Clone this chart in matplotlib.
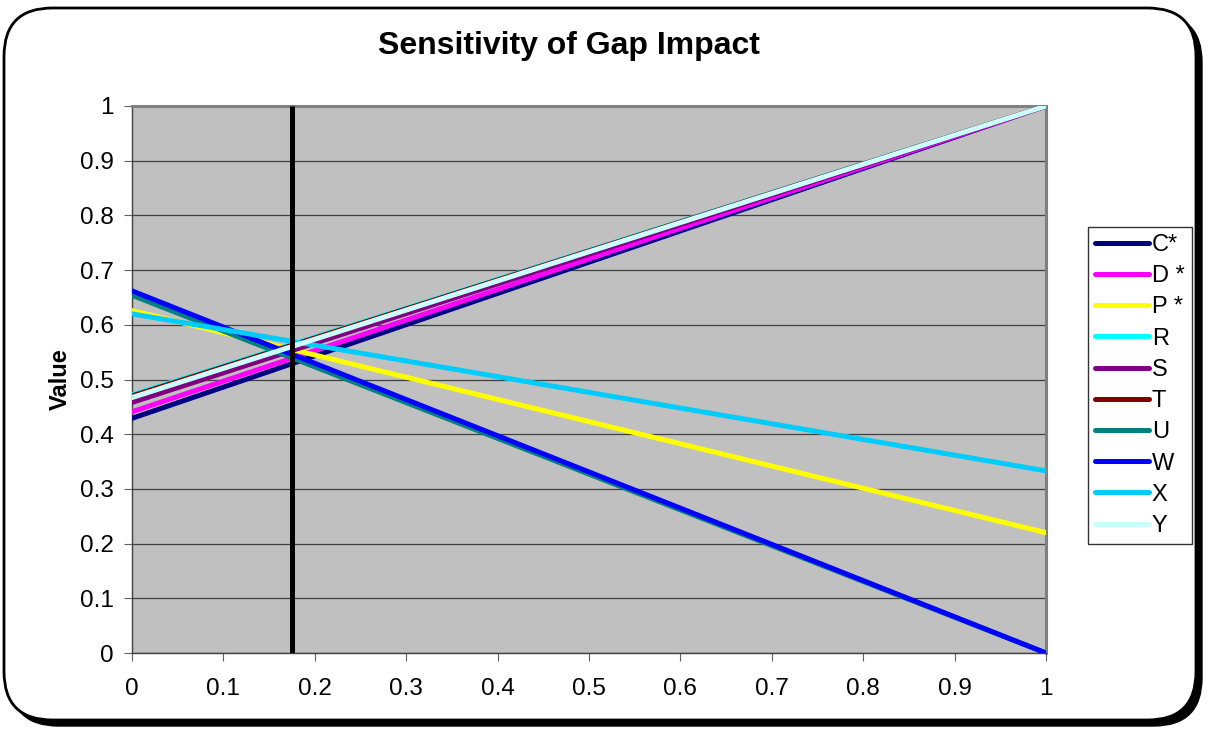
"""
Sensitivity of Gap Impact - garis lurus tiap seri dari x=0 ke x=1.
"""

import matplotlib

matplotlib.use("Agg")
import matplotlib.pyplot as plt
from matplotlib.patches import FancyBboxPatch

# --- Data ---
series_names = ["C*", "D *", "P *", "R", "S", "T", "U", "W", "X", "Y"]
x_points = [0, 1]
start_values = [0.429, 0.441, 0.626, 0.472, 0.458, 0.470, 0.654, 0.662, 0.620, 0.467]
end_values = [1.0, 1.0, 0.22, 1.0, 1.0, 1.0, 0.0, 0.0, 0.333, 1.0]
series_colors = ["#000080", "#FF00FF", "#FFFF00", "#00FFFF", "#800080",
                 "#800000", "#008080", "#0000FF", "#00CCFF", "#CCFFFF"]
marker_x = 0.175
x_ticks = [0, 0.1, 0.2, 0.3, 0.4, 0.5, 0.6, 0.7, 0.8, 0.9, 1]
y_ticks = [0, 0.1, 0.2, 0.3, 0.4, 0.5, 0.6, 0.7, 0.8, 0.9, 1]

plt.rcParams["font.family"] = ["Liberation Sans", "DejaVu Sans"]

W, H = 1210, 729
fig = plt.figure(figsize=(W / 100, H / 100), dpi=100)

# bingkai bulat + bayangan
shadow = FancyBboxPatch((10 / W, 3 / H), 1192 / W, 712 / H,
                        boxstyle="round,pad=0,rounding_size=0.04",
                        transform=fig.transFigure, facecolor="black",
                        edgecolor="black", zorder=-2, mutation_aspect=W / H)
frame = FancyBboxPatch((4 / W, 9 / H), 1192 / W, 712 / H,
                       boxstyle="round,pad=0,rounding_size=0.04",
                       transform=fig.transFigure, facecolor="white",
                       edgecolor="black", linewidth=2, zorder=-1,
                       mutation_aspect=W / H)
fig.patches.extend([shadow, frame])

ax = fig.add_axes([132 / W, 1 - 653 / H, (1046 - 132) / W, (653 - 106) / H])
ax.set_facecolor("#C0C0C0")

for name, y0, y1, col in zip(series_names, start_values, end_values, series_colors):
    ax.plot(x_points, [y0, y1], color=col, linewidth=3.6, label=name,
            solid_capstyle="round", zorder=3)

ax.vlines(marker_x, 0, 1, color="black", linewidth=3.6, zorder=4)

ax.set_xlim(0, 1)
ax.set_ylim(0, 1)
ax.set_xticks(x_ticks)
ax.set_xticklabels([f"{v:g}" for v in x_ticks])
ax.set_yticks(y_ticks)
ax.set_yticklabels([f"{v:g}" for v in y_ticks])
ax.tick_params(labelsize=17.5, length=6, color="#606060")
ax.tick_params(axis="x", pad=12)
ax.tick_params(axis="y", pad=7)
ax.grid(axis="y", color="#404040", linewidth=0.9, zorder=1)
ax.set_axisbelow(True)

for side in ["left", "bottom"]:
    ax.spines[side].set_color("#404040")
    ax.spines[side].set_linewidth(1)
for side in ["top", "right"]:
    ax.spines[side].set_color("#808080")
    ax.spines[side].set_linewidth(2.2)

ax.set_ylabel("Value", fontsize=17, fontweight="bold", labelpad=6)
fig.text(569 / W, 1 - 46 / H, "Sensitivity of Gap Impact", fontsize=23,
         fontweight="bold", ha="center", va="center")

leg = ax.legend(loc="upper left", bbox_to_anchor=(1088 / W, 1 - 227 / H),
                bbox_transform=fig.transFigure, borderaxespad=0,
                fontsize=17, frameon=True, fancybox=False,
                handlelength=2.3, handletextpad=0.1, labelspacing=0.39,
                borderpad=0.3)
leg.get_frame().set_edgecolor("black")
leg.get_frame().set_linewidth(1)
for line in leg.get_lines():
    line.set_linewidth(3.6)

fig.savefig("out.png", dpi=100)
